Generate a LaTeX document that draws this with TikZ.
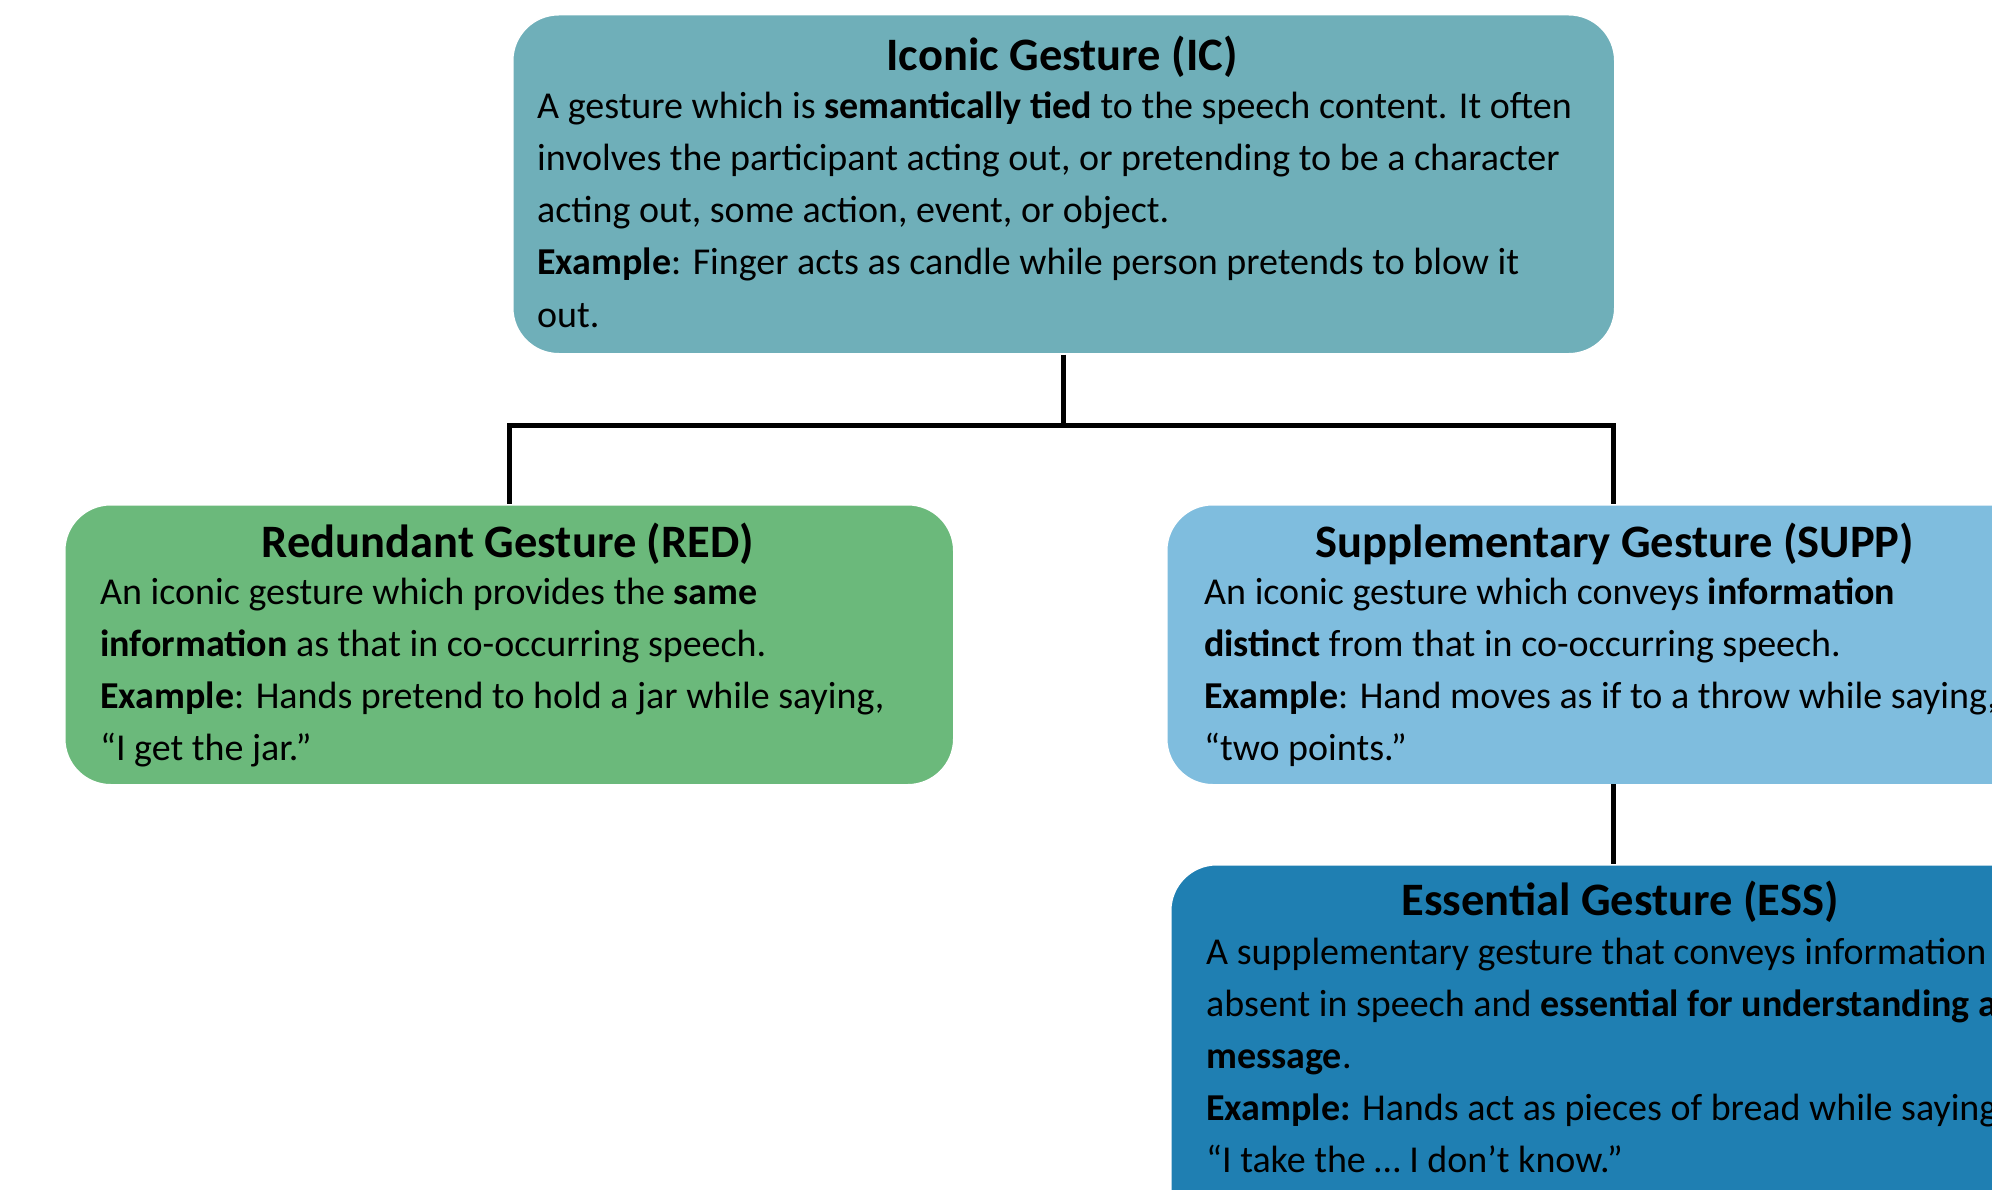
\documentclass[tikz,border=0pt]{standalone}
\usepackage{fontspec}
\setmainfont{Carlito}
\definecolor{icfill}{HTML}{6FAFB9}
\definecolor{redfill}{HTML}{6BB97B}
\definecolor{suppfill}{HTML}{7FBDDE}
\definecolor{essfill}{HTML}{1F7FB2}
\tikzset{
  gbox/.style={draw=white, line width=1.5pt, rounded corners=46pt, inner sep=0pt, anchor=north west},
  gtitle/.style={anchor=base, inner sep=0pt, font=\fontsize{46.5}{52}\selectfont\bfseries},
  gline/.style={anchor=base west, inner sep=0pt, font=\fontsize{38}{52}\selectfont},
  conn/.style={line width=5pt, black}
}
\begin{document}
\begin{tikzpicture}[x=1pt,y=-1pt]
\useasboundingbox (0,0) rectangle (1992,1190);
\clip (0,0) rectangle (1992,1190);
\fill[white] (0,0) rectangle (1992,1190);

% boxes
\node[gbox, fill=icfill, minimum width=1102pt, minimum height=339pt] (ic) at (512,14) {};
\node[gbox, fill=redfill, minimum width=889pt, minimum height=280pt] (red) at (64,504) {};
\node[gbox, fill=suppfill, minimum width=889pt, minimum height=280pt] (supp) at (1166,504) {};
\node[gbox, fill=essfill, minimum width=889pt, minimum height=380pt] (ess) at (1170,864) {};

% connectors
\coordinate (bus) at (1063,425);
\draw[conn] (ic.south -| bus) -- (bus);
\draw[conn] (bus) -- (509,425) -- (509,504);
\draw[conn] (bus) -- (1613,425) -- (1613,504);
\draw[conn] (1613,784) -- (1613,864);

% Iconic
\node[gtitle] (ict) at (1062,71) {Iconic Gesture (IC)};
\node[gline] (ic1) at (537,119) {A gesture which is \textbf{semantically tied} to the speech content. It often};
\node[gline] (ic2) at (537,171) {involves the participant acting out, or pretending to be a character};
\node[gline] (ic3) at (537,223) {acting out, some action, event, or object.};
\node[gline] (ic4) at (537,275) {\textbf{Example}: Finger acts as candle while person pretends to blow it};
\node[gline] (ic5) at (537,327) {out.};

% Redundant
\node[gtitle] (redt) at (508,557) {Redundant Gesture (RED)};
\node[gline] (red1) at (100,604) {An iconic gesture which provides the \textbf{same}};
\node[gline] (red2) at (100,656) {\textbf{information} as that in co-occurring speech.};
\node[gline] (red3) at (100,708) {\textbf{Example}: Hands pretend to hold a jar while saying,};
\node[gline] (red4) at (100,760) {“I get the jar.”};

% Supplementary
\node[gtitle] (suppt) at (1615,557) {Supplementary Gesture (SUPP)};
\node[gline] (supp1) at (1204,604) {An iconic gesture which conveys \textbf{information}};
\node[gline] (supp2) at (1204,656) {\textbf{distinct} from that in co-occurring speech.};
\node[gline] (supp3) at (1204,708) {\textbf{Example}: Hand moves as if to a throw while saying,};
\node[gline] (supp4) at (1204,760) {“two points.”};

% Essential
\node[gtitle] (esst) at (1620,915) {Essential Gesture (ESS)};
\node[gline] (ess1) at (1206,964) {A supplementary gesture that conveys information};
\node[gline] (ess2) at (1206,1016) {absent in speech and \textbf{essential for understanding a}};
\node[gline] (ess3) at (1206,1068) {\textbf{message}.};
\node[gline] (ess4) at (1206,1120) {\textbf{Example:} Hands act as pieces of bread while saying};
\node[gline] (ess5) at (1206,1172) {“I take the … I don’t know.”};
\end{tikzpicture}
\end{document}
